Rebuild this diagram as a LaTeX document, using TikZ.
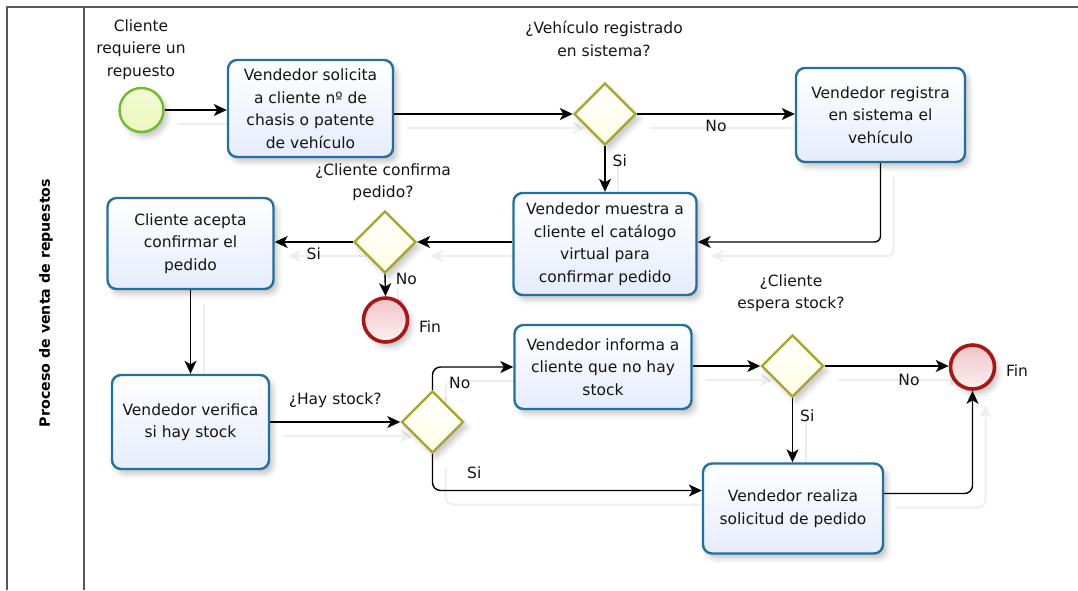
\documentclass[tikz,border=0pt]{standalone}
\usepackage{fontspec}
\setmainfont{DejaVu Sans}
\usetikzlibrary{shapes.geometric,arrows.meta,shadows.blur}

\definecolor{taskline}{RGB}{32,112,162}
\definecolor{taskfill}{RGB}{230,236,252}
\definecolor{gateline}{RGB}{166,166,40}
\definecolor{gatefill}{RGB}{255,255,228}
\definecolor{startline}{RGB}{112,188,44}
\definecolor{startfill}{RGB}{236,248,190}
\definecolor{endline}{RGB}{168,22,22}
\definecolor{endfill}{RGB}{240,196,200}
\definecolor{poolline}{RGB}{88,88,88}
\definecolor{ink}{RGB}{20,20,20}
\definecolor{ghostline}{RGB}{238,238,238}

\pgfdeclarelayer{ghost}
\pgfsetlayers{ghost,main}

\tikzset{
  txt/.style={align=center, text=ink, inner sep=1pt,
    font=\fontsize{15.5}{22.5}\selectfont},
  lbl/.style={text=ink, inner sep=1pt, font=\fontsize{15.5}{22.5}\selectfont},
  soft/.style={blur shadow={shadow xshift=4pt, shadow yshift=-5pt,
    shadow blur radius=5pt, shadow opacity=22}},
  task/.style={txt, soft, draw=taskline, line width=2.4pt, rounded corners=9pt,
    top color=white, bottom color=taskfill, inner sep=0pt},
  gate/.style={soft, diamond, aspect=1, draw=gateline, line width=2.4pt,
    top color=white, bottom color=gatefill, minimum width=62pt, minimum height=62pt, inner sep=0pt},
  startev/.style={soft, circle, draw=startline, line width=2.4pt,
    top color=startfill!70!white, bottom color=startfill, minimum size=44pt, inner sep=0pt},
  endev/.style={soft, circle, draw=endline, line width=3.6pt,
    top color=endfill, bottom color=endfill!25!white, minimum size=44pt, inner sep=0pt},
  tip/.style={-{Stealth[length=13pt,width=12pt,inset=3.5pt]}},
  flow/.style={draw=black, line width=1.4pt, tip},
}

% all sequence flows; drawn once as a faint offset copy and once for real
\newcommand\seqflows{%
\draw[flow] (start.east) -- (start.east -| t1.west);
\draw[flow] (t1.east |- g1.west) -- (g1.west);
\draw[flow] (g1.east) -- node[lbl, pos=0.5, below=4pt] {No} (g1.east -| t2.west);
\draw[flow] (g1.south) -- node[lbl, pos=0.32, anchor=west, xshift=6pt] {Si} (t3.north);
\draw[flow, rounded corners=6pt] (t2.south) |- (t3.east |- g2.east);
\draw[flow] (t3.west |- g2.east) -- (g2.east);
\draw[flow] (g2.west) -- node[lbl, pos=0.5, below=4pt] {Si} (g2.west -| t4.east);
\draw[flow] (g2.south) -- node[lbl, pos=0.2, anchor=west, xshift=9pt] {No} (fin1.north);
\draw[flow] (t4.south) -- (t5.north);
\draw[flow] (t5.east |- g3.west) -- node[lbl, pos=0.5, above=13pt] {¿Hay stock?} (g3.west);
\draw[flow, rounded corners=8pt] (g3.north) |- node[lbl, pos=0.15, anchor=west, xshift=15pt] {No} (t6.west);
\draw[flow, rounded corners=8pt] (g3.south) |- node[lbl, pos=0.25, anchor=west, xshift=33pt] {Si} ([yshift=18pt]t7.west);
\draw[flow] (t6.east |- g4.west) -- (g4.west);
\draw[flow] (g4.east) -- node[lbl, pos=0.68, below=6pt] {No} (g4.east -| fin2.west);
\draw[flow] (g4.south) -- node[lbl, pos=0.27, anchor=west, xshift=6pt] {Si} (g4.south |- t7.north);
\draw[flow, rounded corners=8pt] ([yshift=15pt]t7.east) -| (fin2.south);
}

\begin{document}
\begin{tikzpicture}[x=1pt,y=-1pt]
\useasboundingbox (0,0) rectangle (1078,590);

% pool frame and lane header
\draw[poolline, line width=1.8pt] (7,590) -- (7,7) -- (1078,7);
\draw[poolline, line width=1.8pt] (84,7) -- (84,590);
\node[rotate=90, text=black, font=\fontsize{14.2}{16}\selectfont\bfseries] (lane) at (46,303)
  {Proceso de venta de repuestos};

% events
\node[startev] (start) at (141.5,110) {};
\node[txt] (startlbl) at (141,49.5) {Cliente\\requiere un\\repuesto};
\node[endev] (fin1) at (385.5,320) {};
\node[txt] (fin1lbl) at (430,327) {Fin};
\node[endev] (fin2) at (972.5,367) {};
\node[txt] (fin2lbl) at (1017,371) {Fin};

% tasks
\node[task, minimum width=165pt, minimum height=97pt] (t1) at (310.5,108.5)
  {Vendedor solicita\\a cliente nº de\\chasis o patente\\de vehículo};
\node[task, minimum width=169pt, minimum height=94pt] (t2) at (880.5,115)
  {Vendedor registra\\en sistema el\\vehículo};
\node[task, minimum width=183pt, minimum height=102pt] (t3) at (605,244)
  {Vendedor muestra a\\cliente el catálogo\\virtual para\\confirmar pedido};
\node[task, minimum width=166pt, minimum height=91pt] (t4) at (190.5,243.5)
  {Cliente acepta\\confirmar el\\pedido};
\node[task, minimum width=157pt, minimum height=94pt] (t5) at (190.5,422)
  {Vendedor verifica\\si hay stock};
\node[task, minimum width=177pt, minimum height=84pt] (t6) at (603,367)
  {Vendedor informa a\\cliente que no hay\\stock};
\node[task, minimum width=180pt, minimum height=90pt] (t7) at (793,508.5)
  {Vendedor realiza\\solicitud de pedido};

% gateways
\node[gate] (g1) at (605,114) {};
\node[txt] (g1lbl) at (604,39) {¿Vehículo registrado\\en sistema?};
\node[gate] (g2) at (385,242) {};
\node[txt] (g2lbl) at (383,182) {¿Cliente confirma\\pedido?};
\node[gate] (g3) at (432.5,422) {};
\node[gate] (g4) at (792.5,366) {};
\node[txt] (g4lbl) at (791,293) {¿Cliente\\espera stock?};

% faint offset copies of the flows, behind the shapes
\begin{pgfonlayer}{ghost}
\begin{scope}[transform canvas={shift={(13pt,-14pt)}},
    flow/.style={draw=ghostline, line width=2pt, tip},
    lbl/.style={text opacity=0}]
\seqflows
\end{scope}
\end{pgfonlayer}

% sequence flows
\seqflows
\end{tikzpicture}
\end{document}
